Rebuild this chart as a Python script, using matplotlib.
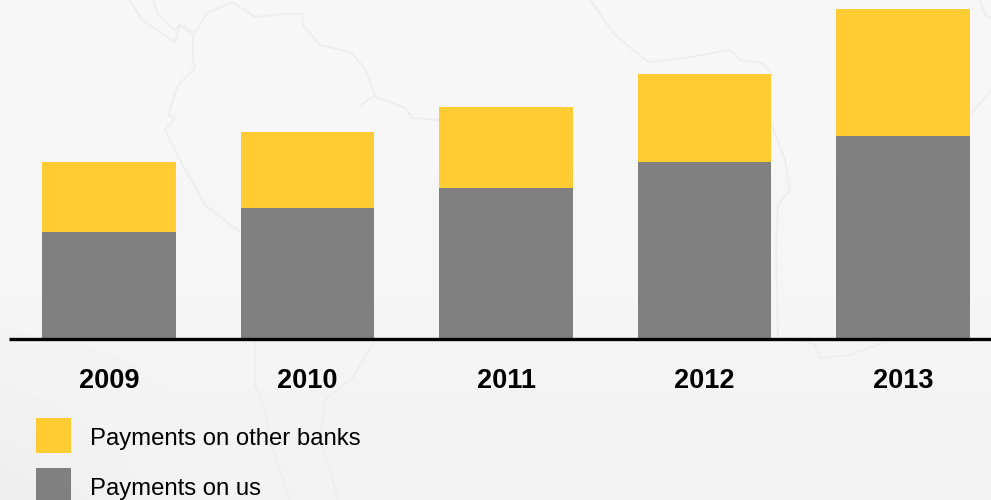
import matplotlib
matplotlib.use("Agg")
import matplotlib.pyplot as plt
import numpy as np
from matplotlib.patches import Rectangle

years = ["2009", "2010", "2011", "2012", "2013"]
# bar heights, in pixels above the baseline
on_us = [106, 130, 150, 176, 202]
other_banks = [70, 76, 81, 88, 127]
legend_labels = ["Payments on other banks", "Payments on us"]

GREY = "#808080"
YELLOW = "#FFCC33"
BASE_PX = 338  # image row of the baseline

plt.rcParams["font.family"] = ["Liberation Sans", "DejaVu Sans"]

fig = plt.figure(figsize=(9.91, 5.0), dpi=100, facecolor="#f6f6f6")

# axes covers the whole canvas, y runs in pixels up from the baseline
ax = fig.add_axes([0, 0, 1, 1])
ax.set_xlim(0, 991)
ax.set_ylim(BASE_PX - 500, BASE_PX)
ax.axis("off")

# soft grey background, a bit darker towards the bottom and the lower left
yy, xx = np.mgrid[0:1:100j, 0:1:200j]
shade = 246.5 - 4 * yy ** 2 - 12 * np.clip(yy - 0.6, 0, 1) * np.clip(1 - xx * 6, 0, 1)
ax.imshow(shade, cmap="gray", vmin=0, vmax=255, extent=[0, 991, BASE_PX - 500, BASE_PX],
          aspect="auto", interpolation="bilinear", zorder=0)

centers = [109, 307.5, 506, 704.5, 903]
width = 133.5

# faint map outlines behind the bars, traced in image pixels (x, row)
map_lines = [
    [(130, 0), (142, 20), (175, 42), (180, 25), (193, 35), (193, 62), (195, 68), (178, 85), (168, 115),
     (175, 118), (165, 130), (180, 160), (205, 205), (240, 232)],
    [(153, 0), (158, 15), (175, 30), (180, 25), (195, 33), (207, 13), (232, 2), (255, 17), (285, 14), (302, 14),
     (303, 25), (320, 45), (350, 52), (365, 68), (375, 95), (360, 106)],
    [(375, 97), (385, 100), (405, 108), (412, 118), (440, 120)],
    [(590, 0), (615, 35), (648, 62), (685, 58), (730, 50), (740, 60), (762, 63), (772, 75)],
    [(772, 125), (785, 160), (790, 190), (778, 205), (776, 250), (778, 338)],
    [(815, 345), (820, 358), (850, 355), (885, 342)],
    [(970, 115), (991, 90)],
    [(980, 0), (985, 15), (991, 18)],
    [(255, 340), (255, 385), (265, 410), (270, 440), (280, 470), (290, 500)],
    [(375, 340), (352, 378), (325, 400), (320, 440), (330, 470), (338, 500)],
    [(800, 338), (815, 345)],
]
for line in map_lines:
    xs = [p[0] for p in line]
    ys = [BASE_PX - p[1] for p in line]
    ax.plot(xs, ys, color="#eeeeee", lw=1.4, zorder=1)

ax.bar(centers, on_us, width=width, color=GREY, linewidth=0, zorder=2)
ax.bar(centers, other_banks, width=width, bottom=on_us, color=YELLOW, linewidth=0, zorder=2)
ax.plot([9, 991], [-1, -1], color="black", lw=2.4, solid_capstyle="butt", zorder=3)

for x, year in zip(centers, years):
    ax.text(x, -50, year, ha="center", va="baseline", fontsize=19.5, fontweight="bold", color="black")

for y, color, label in zip([-97.5, -147.5], [YELLOW, GREY], legend_labels):
    ax.add_patch(Rectangle((36, y - 17.5), 35, 35, facecolor=color, linewidth=0, zorder=2))
    ax.text(90, y - 9.5, label, ha="left", va="baseline", fontsize=17.2, color="black")

fig.savefig("out.png", dpi=100, facecolor=fig.get_facecolor())
